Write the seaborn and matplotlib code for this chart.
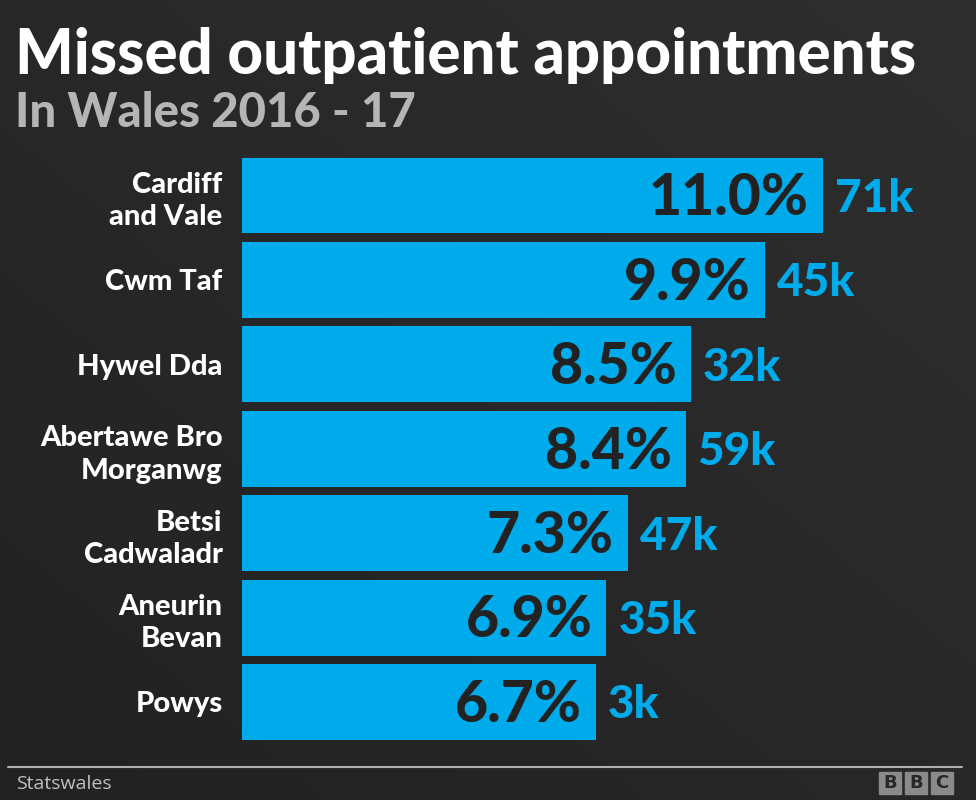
import matplotlib
matplotlib.use("Agg")
import matplotlib.pyplot as plt
from matplotlib.patches import Rectangle
import seaborn as sns
import pandas as pd
import numpy as np

# Data
boards = ['Cardiff\nand Vale', 'Cwm Taf', 'Hywel Dda', 'Abertawe Bro\nMorganwg',
          'Betsi\nCadwaladr', 'Aneurin\nBevan', 'Powys']
missed_pct = [11.0, 9.9, 8.5, 8.4, 7.3, 6.9, 6.7]
missed_count = ['71k', '45k', '32k', '59k', '47k', '35k', '3k']

BG = '#282828'
BAR = '#00abec'
FONT = ['Lato', 'DejaVu Sans']

sns.set_style("white")
plt.rcParams['font.family'] = FONT

df = pd.DataFrame({'board': boards, 'pct': missed_pct, 'count': missed_count})

W, H = 976, 800
fig = plt.figure(figsize=(W / 100, H / 100), dpi=100)
fig.patch.set_facecolor(BG)

# subtle background gradient
bg_ax = fig.add_axes([0, 0, 1, 1], zorder=-10)
yy, xx = np.mgrid[0:1:200j, 0:1:200j]
grad = 0.5 * xx + 0.5 * (1 - yy)
bg_ax.imshow(grad, cmap=matplotlib.colors.LinearSegmentedColormap.from_list('g', ['#222222', '#2e2e2e']),
             extent=[0, 1, 0, 1], aspect='auto', origin='upper')
bg_ax.axis('off')

# bar area: 11.0% bar runs from x=242 to x=822 px
px_per_unit = 581 / 11.0
left = 242
ax = fig.add_axes([left / W, 1 - 744.2 / H, (W - left) / W, (744.2 - 153.3) / H])
ax.patch.set_alpha(0)
sns.barplot(data=df, x='pct', y='board', orient='h', color=BAR, width=0.9,
            saturation=1, linewidth=0, ax=ax)
ax.set_xlim(0, (W - left) / px_per_unit)
ax.set_ylim(6.5, -0.5)
ax.set_xlabel('')
ax.set_ylabel('')
ax.set_xticks([])
for s in ax.spines.values():
    s.set_visible(False)
ax.tick_params(axis='y', length=0, pad=14)
ax.set_yticks(range(len(boards)))
ax.set_yticklabels(boards, color='white', fontsize=21, fontweight=900,
                   linespacing=1.3)

for i, (p, c) in enumerate(zip(missed_pct, missed_count)):
    ax.text(p - 14 / px_per_unit, i + 0.04, f'{p:.1f}%', ha='right', va='center',
            color='#222222', fontsize=41, fontweight=900)
    ax.text(p + 12 / px_per_unit, i + 0.04, c, ha='left', va='center',
            color=BAR, fontsize=33, fontweight=900)

# titles
fig.text(15 / W, 1 - 55 / H, 'Missed outpatient appointments', color='white',
         fontsize=44.5, fontweight=900, va='center', ha='left')
fig.text(15 / W, 1 - 113 / H, 'In Wales 2016 - 17', color='#b5b5b5',
         fontsize=34, fontweight=900, va='center', ha='left')

# footer
fig.add_artist(plt.Line2D([8 / W, 962 / W], [1 - 766.5 / H, 1 - 766.5 / H],
                          color='#b0b0b0', lw=1.5))
fig.text(16 / W, 1 - 784 / H, 'Statswales', color='#c0c0c0', fontsize=14,
         va='center', ha='left', family=['Open Sans', 'DejaVu Sans'])
for k, letter in enumerate('BBC'):
    x0 = 879 + k * 26
    fig.add_artist(Rectangle((x0 / W, 1 - 794 / H), 22 / W, 22 / H,
                             transform=fig.transFigure, color='#8a8a8a'))
    fig.text((x0 + 11) / W, 1 - 783 / H, letter, color='#282828', fontsize=13,
             fontweight='bold', ha='center', va='center', family=['DejaVu Sans'])

fig.savefig('out.png', dpi=100, facecolor=fig.get_facecolor())
